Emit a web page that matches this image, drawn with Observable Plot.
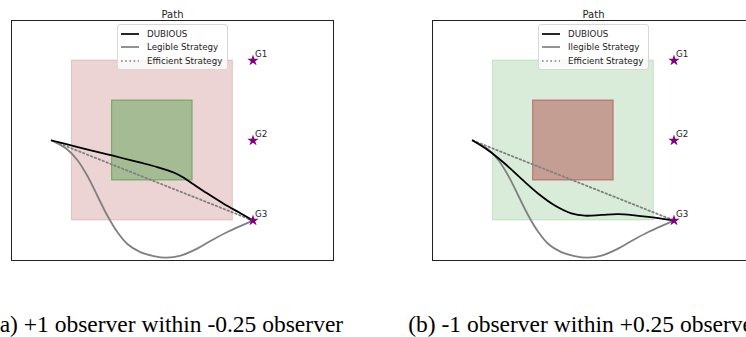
<!DOCTYPE html>
<html><head><meta charset="utf-8">
<script src="https://cdn.jsdelivr.net/npm/d3@7"></script>
<script src="https://cdn.jsdelivr.net/npm/@observablehq/plot@0.6"></script>
<style>
html,body{margin:0;padding:0;background:#fff;}
#wrap{position:relative;width:746px;height:337px;overflow:hidden;}
.panel{position:absolute;top:0;width:373px;height:270px;}
.legend{position:absolute;left:117px;top:24px;width:109px;height:42px;border:1px solid #d8d8d8;border-radius:3px;background:rgba(255,255,255,0.8);font-family:"DejaVu Sans",sans-serif;font-size:8.7px;color:#222;padding-top:2px;box-sizing:content-box;}
.legend .row{display:flex;align-items:center;height:13.5px;padding-left:3px;white-space:nowrap;}
.legend svg{width:18px;height:6px;margin-right:8px;flex:none;}
.caption{position:absolute;top:313px;font-family:"Liberation Serif","DejaVu Serif",serif;font-size:23.5px;line-height:23.5px;white-space:nowrap;transform:translateX(-50%);color:#000;}
</style></head>
<body>
<div id="wrap"></div>
<script>
// ---- data ----
const xDomain = [-1, 7];
const yDomain = [-3, 3];
const goalNames = ["G1", "G2", "G3"];
const goalX = [5, 5, 5];
const goalY = [2, 0, -2];
const outerRegion = {x1: 0.5, x2: 4.5, y1: -2, y2: 2};
const innerRegion = {x1: 1.5, x2: 3.5, y1: -1, y2: 1};
const efficientX = [0, 5];
const efficientY = [0, -2];
const legibleX = [0, 0.38, 0.63, 0.88, 1.13, 1.38, 1.63, 1.87, 2.2, 2.53, 2.85, 3.2, 3.6, 4.0, 4.4, 4.8, 5];
const legibleY = [0, -0.22, -0.48, -0.875, -1.375, -1.875, -2.29, -2.58, -2.79, -2.89, -2.93, -2.88, -2.71, -2.48, -2.27, -2.09, -2];
const dubiousAX = [0, 0.55, 0.97, 1.38, 1.79, 2.21, 2.62, 3.03, 3.28, 3.53, 3.86, 4.27, 4.69, 5];
const dubiousAY = [0, -0.14, -0.245, -0.345, -0.45, -0.555, -0.665, -0.8, -0.93, -1.1, -1.32, -1.58, -1.82, -2];
const dubiousBX = [0, 0.39, 0.8, 1.21, 1.63, 2.04, 2.45, 2.79, 3.2, 3.61, 4.02, 4.52, 5];
const dubiousBY = [0, -0.25, -0.58, -0.96, -1.33, -1.625, -1.82, -1.88, -1.86, -1.84, -1.87, -1.93, -2];
const panelTitle = "Path";
const legendLabelsA = ["DUBIOUS", "Legible Strategy", "Efficient Strategy"];
const legendLabelsB = ["DUBIOUS", "Ilegible Strategy", "Efficient Strategy"];
const captionA = "(a) +1 observer within -0.25 observer";
const captionB = "(b) -1 observer within +0.25 observer";

const zip = (xs, ys) => xs.map((x, i) => ({x, y: ys[i]}));
const goals = goalNames.map((name, i) => ({name, x: goalX[i], y: goalY[i]}));

function makePanel(cfg) {
  return Plot.plot({
    width: 373, height: 270,
    marginLeft: 11, marginRight: 40, marginTop: 20, marginBottom: 10,
    x: {domain: xDomain, axis: null},
    y: {domain: yDomain, axis: null},
    style: {fontFamily: "DejaVu Sans, sans-serif", background: "transparent"},
    marks: [
      Plot.rect([outerRegion], {x1: "x1", x2: "x2", y1: "y1", y2: "y2",
        fill: cfg.outer, fillOpacity: cfg.outerAlpha, stroke: cfg.outer, strokeOpacity: cfg.outerAlpha}),
      Plot.rect([innerRegion], {x1: "x1", x2: "x2", y1: "y1", y2: "y2",
        fill: cfg.inner, fillOpacity: cfg.innerAlpha, stroke: cfg.inner, strokeOpacity: cfg.innerAlpha + 0.15}),
      Plot.line(zip(efficientX, efficientY), {x: "x", y: "y", stroke: "gray", strokeWidth: 1.8, strokeDasharray: "1.6,2.6"}),
      Plot.line(zip(legibleX, legibleY), {x: "x", y: "y", stroke: "gray", strokeWidth: 1.8, curve: "catmull-rom"}),
      Plot.line(cfg.dubious, {x: "x", y: "y", stroke: "black", strokeWidth: 1.8, curve: "catmull-rom"}),
      Plot.dot(goals, {x: "x", y: "y", symbol: "star", r: 3.6, fill: "purple", stroke: "none"}),
      Plot.text(goals, {x: "x", y: "y", text: "name", textAnchor: "start", dx: 2, dy: -6, fontSize: 8.7, fill: "#222"}),
      Plot.frame({stroke: "#222", strokeWidth: 1}),
      Plot.text([panelTitle], {text: d => d, frameAnchor: "top", dy: -10, fontSize: 10, fill: "#222"})
    ]
  });
}

function makeLegend(labels) {
  const lg = document.createElement("div");
  lg.className = "legend";
  const styles = [
    {stroke: "black", dash: null},
    {stroke: "gray", dash: null},
    {stroke: "gray", dash: "1.6,2.6"}
  ];
  labels.forEach((lab, i) => {
    const row = document.createElement("div");
    row.className = "row";
    const s = styles[i];
    row.innerHTML = `<svg viewBox="0 0 18 6"><line x1="0" x2="18" y1="3" y2="3" stroke="${s.stroke}" stroke-width="1.7"${s.dash ? ` stroke-dasharray="${s.dash}"` : ""}/></svg><span>${lab}</span>`;
    lg.appendChild(row);
  });
  return lg;
}

const wrap = document.getElementById("wrap");
const panels = [
  {left: 0, outer: "#a52a2a", outerAlpha: 0.2, inner: "green", innerAlpha: 0.3,
   dubious: zip(dubiousAX, dubiousAY), labels: legendLabelsA, caption: captionA, cx: 167.5},
  {left: 421, outer: "green", outerAlpha: 0.15, inner: "#a52a2a", innerAlpha: 0.4,
   dubious: zip(dubiousBX, dubiousBY), labels: legendLabelsB, caption: captionB, cx: 584.5}
];
panels.forEach(p => {
  const div = document.createElement("div");
  div.className = "panel";
  div.style.left = p.left + "px";
  div.appendChild(makePanel(p));
  div.appendChild(makeLegend(p.labels));
  wrap.appendChild(div);
  const cap = document.createElement("div");
  cap.className = "caption";
  cap.style.left = p.cx + "px";
  cap.textContent = p.caption;
  wrap.appendChild(cap);
});
</script>
</body></html>
